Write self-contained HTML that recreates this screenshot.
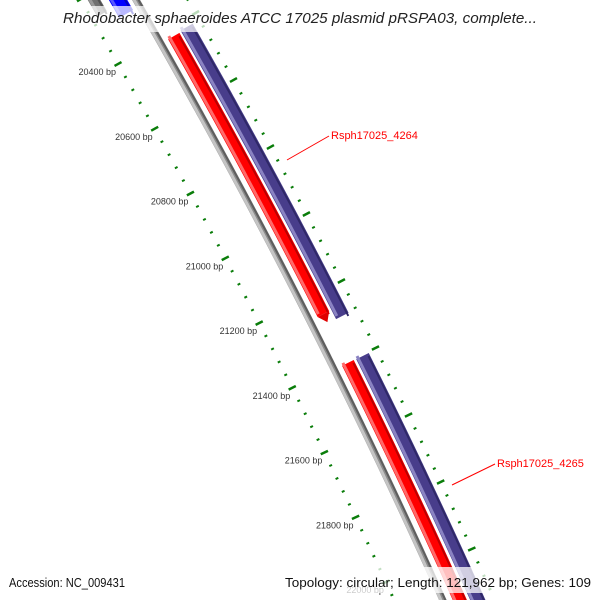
<!DOCTYPE html>
<html><head><meta charset="utf-8"><style>
html,body{margin:0;padding:0;background:#fff;}
svg{display:block;font-family:"Liberation Sans",sans-serif;}
</style></head><body>
<svg id="map" width="600" height="600" viewBox="0 0 600 600" xmlns="http://www.w3.org/2000/svg">
<g id="strips"></g>
<g id="ticks"></g>
<g>
<line x1="287" y1="160" x2="329" y2="136" stroke="#ff0000" stroke-width="1"/>
<text x="331" y="139" font-size="11" fill="#ff0000">Rsph17025_4264</text>
<line x1="452" y1="485" x2="495" y2="464" stroke="#ff0000" stroke-width="1"/>
<text x="497" y="467" font-size="11" fill="#ff0000">Rsph17025_4265</text>
</g>
<rect x="0" y="6" width="600" height="26" fill="#fff" fill-opacity="0.72"/>
<text x="300" y="23" text-anchor="middle" font-size="14.5" font-style="italic" fill="#222" textLength="474" lengthAdjust="spacingAndGlyphs">Rhodobacter sphaeroides ATCC 17025 plasmid pRSPA03, complete...</text>
<rect x="0" y="567" width="600" height="26" fill="#fff" fill-opacity="0.75"/>
<text x="9" y="587" font-size="13" fill="#111" textLength="116" lengthAdjust="spacingAndGlyphs">Accession: NC_009431</text>
<text x="591" y="587" text-anchor="end" font-size="13" fill="#111" textLength="306" lengthAdjust="spacingAndGlyphs">Topology: circular; Length: 121,962 bp; Genes: 109</text>
</svg>
<script>
const tickLabels = [20400,20600,20800,21000,21200,21400,21600,21800,22000];
const geneNames = ['Rsph17025_4264','Rsph17025_4265'];
const geneStart = [20314,21323];
const geneEnd = [21197,22400];
const cdsStart = [20286,21302];
const cdsEnd = [21178,22400];
const outerMajorStart = 20400;

const NS='http://www.w3.org/2000/svg';
const strips=document.getElementById('strips');
const ticks=document.getElementById('ticks');
function yScale(bp){return 64+(bp-20400)*0.3238;}
function yOuter(bp){return 80+(bp-20400)*0.335;}
function gx(y){return 136.1+0.576*y-0.000108*y*y;}
function slope(y){return 0.576-0.000216*y;}
function pathD(off,y0,y1){
  let d='';
  for(let y=y0;y<=y1;y+=3){d+=(d?'L':'M')+(gx(y)+off).toFixed(2)+' '+y.toFixed(2);}
  d+='L'+(gx(y1)+off).toFixed(2)+' '+y1.toFixed(2);
  return d;
}
function strip(name,off,y0,y1,w,col){
  const p=document.createElementNS(NS,'path');
  p.setAttribute('d',pathD(off,y0,y1));
  p.setAttribute('fill','none');p.setAttribute('stroke',col);p.setAttribute('stroke-width',w);
  
  
  strips.appendChild(p);
}
function band(name,off,y0,y1,w,main,light,dark){
  strip(name,off,y0,y1,w,main);
  strip(name+'-highlight',off-w/2+1.5,y0,y1,3,light);
  strip(name+'-shade',off+w/2-1,y0,y1,2,dark);
}
// inner top features
band('reverse-feature-gray',-42,-10,14,11,'#707070','#999','#505050');
band('reverse-feature-blue',-18,-10,14,16,'#0000ff','#5555ff','#0000bb');
// backbone
band('backbone',0,-10,610,7,'#8c8c8c','#c4c4c4','#5e5e5e');
// CDS (blue)
for(let i=0;i<cdsStart.length;i++){
  band('cds-'+geneNames[i],35,yScale(cdsStart[i]),Math.min(yScale(cdsEnd[i]),620),14,'#483d8b','#8a83c2','#2f2868');
}
// genes (red) with arrowheads
for(let i=0;i<geneStart.length;i++){
  const y0=yScale(geneStart[i]), yt=yScale(geneEnd[i]);
  const yb=Math.min(yt-8,620);
  band('gene-'+geneNames[i],17,y0,yb,13,'#ff0000','#ff6a6a','#bb0000');
  if(yt<600){
    const s=slope(yb),n=Math.sqrt(1+s*s),nx=1/n,ny=-s/n;
    const cx=gx(yb)+17;
    const tip=[gx(yt)+17,yt];
    const poly=document.createElementNS(NS,'polygon');
    poly.setAttribute('points',`${cx-6.5*nx},${yb-6.5*ny} ${cx+6.5*nx},${yb+6.5*ny} ${tip[0]},${tip[1]}`);
    poly.setAttribute('fill','#e00000');
    
    
    strips.appendChild(poly);
  }
}
function tick(x,y,len,w,name){
  const s=slope(y),n=Math.sqrt(1+s*s),nx=1/n,ny=-s/n;
  const l=document.createElementNS(NS,'line');
  l.setAttribute('x1',x-nx*len/2);l.setAttribute('y1',y-ny*len/2);
  l.setAttribute('x2',x+nx*len/2);l.setAttribute('y2',y+ny*len/2);
  l.setAttribute('stroke','#0a7d0a');l.setAttribute('stroke-width',w);
  
  
  ticks.appendChild(l);
}
// inner ring
for(let bp=19800;bp<=22400;bp+=40){
  const y=yScale(bp); if(y<-5||y>605)continue;
  const x=gx(y)-54.5+(y-64)*0.0108;
  const major=(bp%200===0);
  tick(x,y,major?8:3,major?2.5:2,major?'inner-major-tick':'inner-minor-tick');
}
tickLabels.forEach(bp=>{
  const y=yScale(bp);const x=gx(y)-54.5+(y-64)*0.0108;
  const t=document.createElementNS(NS,'text');
  t.setAttribute('x',x-2);t.setAttribute('y',y+11);
  t.setAttribute('text-anchor','end');t.setAttribute('font-size','9');t.setAttribute('fill','#333');
  t.textContent=bp+' bp';
  
  
  ticks.appendChild(t);
});
// outer ring
for(let bp=outerMajorStart-400;bp<=22400;bp+=40){
  const y=yOuter(bp); if(y<-5||y>605)continue;
  const x=gx(y)+52;
  const major=((bp-outerMajorStart)%200===0);
  tick(x,y,major?8:3,major?2.5:2,major?'outer-major-tick':'outer-minor-tick');
}
</script>
</body></html>
